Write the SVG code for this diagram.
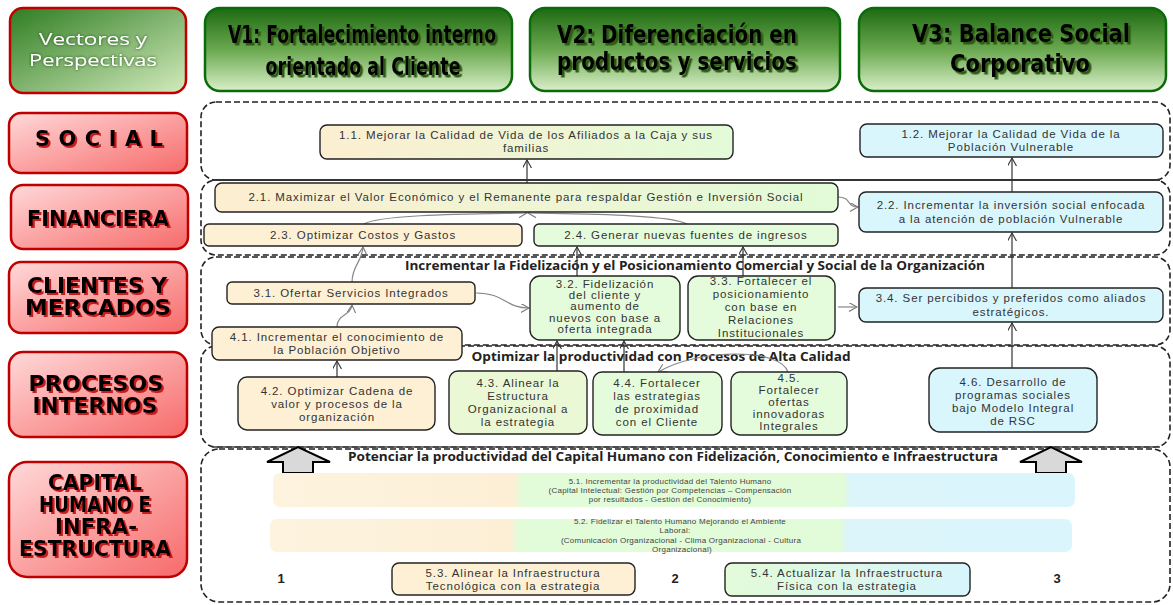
<svg xmlns="http://www.w3.org/2000/svg" width="1173" height="605" viewBox="0 0 1173 605">
<style>
.lane{fill:none;stroke:#222;stroke-width:1.6;stroke-dasharray:6 3}
.node{stroke:#222;stroke-width:1.4}
.t{font-family:"Liberation Sans",Arial,sans-serif;font-size:11.5px;letter-spacing:0.9px;fill:#333;text-anchor:middle}
.ts{font-family:"Liberation Sans",Arial,sans-serif;font-size:8px;letter-spacing:0.25px;fill:#444;text-anchor:middle}
.lt{font-family:"Open Sans","Liberation Sans",Arial,sans-serif;font-size:12px;font-weight:bold;fill:#222;text-anchor:middle}
.num{font-family:"Liberation Sans",Arial,sans-serif;font-size:13px;font-weight:bold;fill:#222;text-anchor:middle}
.persp{fill:url(#gRed);stroke:#c00000;stroke-width:2.5}
.ph{font-family:"DejaVu Sans",sans-serif;font-weight:900;font-size:21px;fill:#000;text-anchor:middle;filter:url(#shR)}
.vec{fill:url(#gGreen);stroke:#0b6b0b;stroke-width:2.5}
.vh{font-family:"DejaVu Sans Condensed","DejaVu Sans",sans-serif;font-weight:bold;font-size:24px;fill:#000;text-anchor:middle;filter:url(#shG)}
.c{fill:none;stroke:#333;stroke-width:1.2;marker-end:url(#arr)}
.cg{fill:none;stroke:#888;stroke-width:1.2;marker-end:url(#arrg)}
.or{fill:#fdf0d5}.gr{fill:#e5fcdc}.bl{fill:#d9f6fd}
</style>
<defs>
<linearGradient id="gRed" x1="0" y1="0" x2="1" y2="1"><stop offset="0" stop-color="#ffd9d9"/><stop offset="1" stop-color="#f76a6a"/></linearGradient>
<linearGradient id="gGreen" x1="0" y1="0" x2="0" y2="1"><stop offset="0" stop-color="#1d6a12"/><stop offset="0.5" stop-color="#6aa84f"/><stop offset="1" stop-color="#d9efc9"/></linearGradient>
<linearGradient id="gVP" x1="0" y1="0" x2="1" y2="1"><stop offset="0" stop-color="#2f7d22"/><stop offset="1" stop-color="#d3ebbd"/></linearGradient>
<linearGradient id="gOG" x1="0" y1="0" x2="1" y2="0"><stop offset="0" stop-color="#fdeed1"/><stop offset="1" stop-color="#e2fbd8"/></linearGradient>
<linearGradient id="gGB" x1="0" y1="0" x2="1" y2="0"><stop offset="0" stop-color="#e3fbd8"/><stop offset="1" stop-color="#d7f5fd"/></linearGradient>
<linearGradient id="gBand" x1="0" y1="0" x2="1" y2="0"><stop offset="0" stop-color="#fdf3de"/><stop offset="0.3" stop-color="#fcefd6"/><stop offset="0.31" stop-color="#e2fbd8"/><stop offset="0.71" stop-color="#e2fbd8"/><stop offset="0.72" stop-color="#dcf5fb"/><stop offset="1" stop-color="#dbf5fd"/></linearGradient>
<filter id="shR" x="0" y="0" width="1.05" height="1"><feDropShadow dx="2" dy="2" stdDeviation="0.4" flood-color="#c81e1e"/></filter>
<filter id="shG" x="-10%" y="-20%" width="130%" height="150%"><feDropShadow dx="2.5" dy="2.5" stdDeviation="0.5" flood-color="#2e5a16"/></filter>
<filter id="shW" x="-20%" y="-40%" width="140%" height="180%"><feDropShadow dx="0" dy="0" stdDeviation="1.8" flood-color="#1f4d14"/></filter>
<marker id="arr" viewBox="0 0 10 10" refX="9" refY="5" markerWidth="9" markerHeight="9" orient="auto" markerUnits="userSpaceOnUse"><path d="M0,0 L9,5 L0,10" fill="none" stroke="#333" stroke-width="1.2"/></marker>
<marker id="arrg" viewBox="0 0 10 10" refX="9" refY="5" markerWidth="9" markerHeight="9" orient="auto" markerUnits="userSpaceOnUse"><path d="M0,0 L9,5 L0,10" fill="none" stroke="#777" stroke-width="1.2"/></marker>
</defs>
<rect width="1173" height="605" fill="#fff"/>

<!-- lanes -->
<g id="lanes">
<rect class="lane" x="201" y="102" width="969" height="78" rx="15"/>
<rect class="lane" x="201" y="180" width="969" height="75" rx="15"/>
<rect class="lane" x="201" y="257" width="969" height="88" rx="15"/>
<rect class="lane" x="201" y="346" width="969" height="101" rx="15"/>
<rect class="lane" x="201" y="449" width="969" height="153" rx="18"/>
<line x1="212" y1="180" x2="1160" y2="180" stroke="#333" stroke-width="2"/>
<line x1="212" y1="447" x2="1160" y2="447" stroke="#444" stroke-width="1.6"/>
</g>

<!-- header -->
<g id="h-vp">
<rect x="10" y="8" width="176" height="85" rx="13" fill="url(#gVP)" stroke="#c00000" stroke-width="2.5"/>
<g font-family="'Open Sans','DejaVu Sans',sans-serif" font-size="16" fill="#fff" text-anchor="middle" filter="url(#shW)">
<text x="93" y="45" textLength="108" lengthAdjust="spacingAndGlyphs">Vectores y</text>
<text x="93" y="66" textLength="128" lengthAdjust="spacingAndGlyphs">Perspectivas</text>
</g>
</g>
<g id="h-v1">
<rect class="vec" x="205" y="8" width="307" height="83" rx="15"/>
<text class="vh" x="362" y="43" textLength="268" lengthAdjust="spacingAndGlyphs">V1: Fortalecimiento interno</text>
<text class="vh" x="363" y="75" textLength="195" lengthAdjust="spacingAndGlyphs">orientado al Cliente</text>
</g>
<g id="h-v2">
<rect class="vec" x="530" y="8" width="310" height="83" rx="15"/>
<text class="vh" x="677" y="43" textLength="240" lengthAdjust="spacingAndGlyphs">V2: Diferenciación en</text>
<text class="vh" x="677" y="70" textLength="240" lengthAdjust="spacingAndGlyphs">productos y servicios</text>
</g>
<g id="h-v3">
<rect class="vec" x="859" y="8" width="307" height="83" rx="15"/>
<text class="vh" x="1021" y="42" textLength="218" lengthAdjust="spacingAndGlyphs">V3:  Balance Social</text>
<text class="vh" x="1020" y="72" textLength="140" lengthAdjust="spacingAndGlyphs">Corporativo</text>
</g>

<!-- perspectives -->
<g id="p-social">
<rect class="persp" x="9" y="113" width="178" height="60" rx="12"/>
<text class="ph" x="99" y="146" textLength="128" lengthAdjust="spacing">SOCIAL</text>
</g>
<g id="p-financiera">
<rect class="persp" x="11" y="185" width="177" height="64" rx="12"/>
<text class="ph" x="98" y="226" font-size="25" textLength="142" lengthAdjust="spacingAndGlyphs">FINANCIERA</text>
</g>
<g id="p-clientes">
<rect class="persp" x="9" y="262" width="178" height="71" rx="12"/>
<text class="ph" x="97" y="293" font-size="16" textLength="140" lengthAdjust="spacingAndGlyphs">CLIENTES Y</text>
<text class="ph" x="98" y="315" font-size="16" textLength="146" lengthAdjust="spacingAndGlyphs">MERCADOS</text>
</g>
<g id="p-procesos">
<rect class="persp" x="9" y="352" width="178" height="85" rx="14"/>
<text class="ph" x="96" y="391" font-size="16" textLength="135" lengthAdjust="spacingAndGlyphs">PROCESOS</text>
<text class="ph" x="95" y="413" font-size="16" textLength="125" lengthAdjust="spacingAndGlyphs">INTERNOS</text>
</g>
<g id="p-capital">
<rect class="persp" x="9" y="462" width="178" height="115" rx="18"/>
<text class="ph" x="95" y="490" font-size="16" textLength="94" lengthAdjust="spacingAndGlyphs">CAPITAL</text>
<text class="ph" x="95" y="512" font-size="16" textLength="112" lengthAdjust="spacingAndGlyphs">HUMANO E</text>
<text class="ph" x="96" y="534" font-size="16" textLength="82" lengthAdjust="spacingAndGlyphs">INFRA-</text>
<text class="ph" x="95" y="556" font-size="16" textLength="152" lengthAdjust="spacingAndGlyphs">ESTRUCTURA</text>
</g>

<!-- lane titles -->
<text class="lt" x="695" y="270" textLength="580" lengthAdjust="spacingAndGlyphs">Incrementar la Fidelización y el Posicionamiento Comercial y Social de la Organización</text>
<text class="lt" x="661" y="361" textLength="379" lengthAdjust="spacingAndGlyphs">Optimizar la productividad con Procesos de Alta Calidad</text>
<text class="lt" x="673" y="461" textLength="650" lengthAdjust="spacingAndGlyphs">Potenciar la productividad del Capital Humano con Fidelización, Conocimiento e Infraestructura</text>

<!-- connectors -->
<g id="connectors">
<line class="c" x1="527" y1="183" x2="527" y2="160"/>
<line class="c" x1="1012" y1="192" x2="1012" y2="158"/>
<path class="cg" d="M364,224 C380,214 480,214 527,213"/>
<path class="cg" d="M687,224 C670,214 570,214 528,213"/>
<path class="cg" d="M838,197 C852,197 846,207 858,207"/>
<line class="c" x1="1012" y1="288" x2="1012" y2="233"/>
<path class="cg" d="M352,282 C352,266 362,262 363,247"/>
<line class="c" x1="577" y1="276" x2="577" y2="247"/>
<line class="c" x1="743" y1="276" x2="743" y2="247"/>
<path class="cg" d="M476,293 C505,293 505,308 529,308"/>
<line class="cg" x1="838" y1="307" x2="857" y2="307"/>
<path class="cg" d="M337,327 C337,314 351,316 352,305"/>
<line class="c" x1="337" y1="377" x2="337" y2="361"/>
<line class="c" x1="557" y1="371" x2="557" y2="341"/>
<line class="c" x1="624" y1="372" x2="624" y2="341"/>
<path class="cg" d="M788,372 C780,348 700,348 658,372"/>
<line class="c" x1="1012" y1="368" x2="1012" y2="323"/>
<path d="M267,462 L298,447 L330,462 L313,462 L313,473 L283,473 L283,462 Z" fill="#d9d9d9" stroke="#000" stroke-width="2"/>
<path d="M1020,462 L1051,447 L1082,462 L1066,462 L1066,473 L1036,473 L1036,462 Z" fill="#d9d9d9" stroke="#000" stroke-width="2"/>
</g>

<!-- nodes -->
<g id="n11"><rect class="node" x="320" y="125" width="413" height="34" rx="7" fill="url(#gOG)"/>
<text class="t"><tspan x="526" y="139">1.1.  Mejorar la Calidad de Vida de los Afiliados a la Caja y sus</tspan><tspan x="526" y="152">familias</tspan></text></g>
<g id="n12"><rect class="node bl" x="860" y="124" width="303" height="33" rx="7"/>
<text class="t"><tspan x="1011" y="138">1.2. Mejorar la Calidad de Vida de la</tspan><tspan x="1011" y="151">Población Vulnerable</tspan></text></g>
<g id="n21"><rect class="node" x="215" y="183" width="623" height="29" rx="7" fill="url(#gOG)"/>
<text class="t" x="526" y="201">2.1.  Maximizar el Valor Económico y el Remanente para respaldar Gestión e Inversión Social</text></g>
<g id="n22"><rect class="node bl" x="859" y="192" width="304" height="40" rx="7"/>
<text class="t"><tspan x="1011" y="209">2.2.  Incrementar la inversión social enfocada</tspan><tspan x="1011" y="223">a la atención de población Vulnerable</tspan></text></g>
<g id="n23"><rect class="node or" x="204" y="224" width="318" height="22" rx="5"/>
<text class="t" x="363" y="239">2.3.  Optimizar Costos y Gastos</text></g>
<g id="n24"><rect class="node gr" x="534" y="224" width="304" height="22" rx="5"/>
<text class="t" x="686" y="239">2.4.  Generar nuevas fuentes de ingresos</text></g>
<g id="n31"><rect class="node or" x="227" y="282" width="248" height="22" rx="5"/>
<text class="t" x="351" y="297">3.1. Ofertar Servicios Integrados</text></g>
<g id="n32"><rect class="node gr" x="530" y="276" width="150" height="64" rx="10"/>
<text class="t" font-size="9.8px"><tspan x="605" y="288">3.2. Fidelización</tspan><tspan x="605" y="299.2">del cliente y</tspan><tspan x="605" y="310.4">aumento de</tspan><tspan x="605" y="321.6">nuevos con base a</tspan><tspan x="605" y="332.8">oferta integrada</tspan></text></g>
<g id="n33"><rect class="node gr" x="688" y="276" width="147" height="64" rx="10"/>
<text class="t" font-size="11px"><tspan x="761" y="285">3.3. Fortalecer el</tspan><tspan x="761" y="298">posicionamiento</tspan><tspan x="761" y="311">con base en</tspan><tspan x="761" y="324">Relaciones</tspan><tspan x="761" y="337">Institucionales</tspan></text></g>
<g id="n34"><rect class="node bl" x="859" y="288" width="304" height="34" rx="7"/>
<text class="t"><tspan x="1011" y="302">3.4.  Ser percibidos y preferidos como aliados</tspan><tspan x="1011" y="316">estratégicos.</tspan></text></g>
<g id="n41"><rect class="node or" x="212" y="327" width="250" height="33" rx="7"/>
<text class="t"><tspan x="337" y="341">4.1. Incrementar el conocimiento de</tspan><tspan x="337" y="354">la Población Objetivo</tspan></text></g>
<g id="n42"><rect class="node or" x="238" y="377" width="197" height="53" rx="9"/>
<text class="t"><tspan x="337" y="395">4.2. Optimizar Cadena de</tspan><tspan x="337" y="408">valor y  procesos de la</tspan><tspan x="337" y="421">organización</tspan></text></g>
<g id="n43"><rect class="node" x="449" y="371" width="138" height="63" rx="9" fill="#ebf8d6"/>
<text class="t" font-size="11px"><tspan x="518" y="387">4.3. Alinear la</tspan><tspan x="518" y="400">Estructura</tspan><tspan x="518" y="413">Organizacional a</tspan><tspan x="518" y="426">la estrategia</tspan></text></g>
<g id="n44"><rect class="node gr" x="593" y="372" width="129" height="63" rx="9"/>
<text class="t" font-size="11px"><tspan x="657" y="387">4.4. Fortalecer</tspan><tspan x="657" y="400">las estrategias</tspan><tspan x="657" y="413">de proximidad</tspan><tspan x="657" y="426">con el Cliente</tspan></text></g>
<g id="n45"><rect class="node gr" x="731" y="372" width="116" height="63" rx="9"/>
<text class="t" font-size="10.5px"><tspan x="789" y="382">4.5.</tspan><tspan x="789" y="394">Fortalecer</tspan><tspan x="789" y="406">ofertas</tspan><tspan x="789" y="418">innovadoras</tspan><tspan x="789" y="430">Integrales</tspan></text></g>
<g id="n46"><rect class="node bl" x="929" y="368" width="168" height="64" rx="11"/>
<text class="t"><tspan x="1013" y="386">4.6. Desarrollo de</tspan><tspan x="1013" y="399">programas sociales</tspan><tspan x="1013" y="412">bajo Modelo Integral</tspan><tspan x="1013" y="425">de RSC</tspan></text></g>
<g id="n51"><rect x="273" y="473" width="802" height="34" rx="7" fill="url(#gBand)"/>
<text class="ts"><tspan x="670" y="484">5.1.  Incrementar la productividad del Talento Humano</tspan><tspan x="670" y="493">(Capital Intelectual: Gestión por Competencias – Compensación</tspan><tspan x="670" y="502">por resultados - Gestión del Conocimiento)</tspan></text></g>
<g id="n52"><rect x="270" y="519" width="802" height="33" rx="7" fill="url(#gBand)"/>
<text class="ts"><tspan x="680" y="524">5.2.  Fidelizar el Talento Humano Mejorando el Ambiente</tspan><tspan x="675" y="533">Laboral:</tspan><tspan x="681" y="543">(Comunicación Organizacional - Clima Organizacional - Cultura</tspan><tspan x="682" y="552">Organizacional)</tspan></text></g>
<g id="n53"><rect class="node or" x="392" y="563" width="243" height="32" rx="7"/>
<text class="t"><tspan x="513" y="577">5.3.  Alinear la Infraestructura</tspan><tspan x="513" y="590">Tecnológica con la estrategia</tspan></text></g>
<g id="n54"><rect class="node" x="725" y="563" width="245" height="33" rx="7" fill="url(#gGB)"/>
<text class="t"><tspan x="847" y="577">5.4.  Actualizar la Infraestructura</tspan><tspan x="847" y="590">Física con la estrategia</tspan></text></g>
<text class="num" x="281" y="583">1</text>
<text class="num" x="675" y="583">2</text>
<text class="num" x="1057" y="583">3</text>
</svg>
